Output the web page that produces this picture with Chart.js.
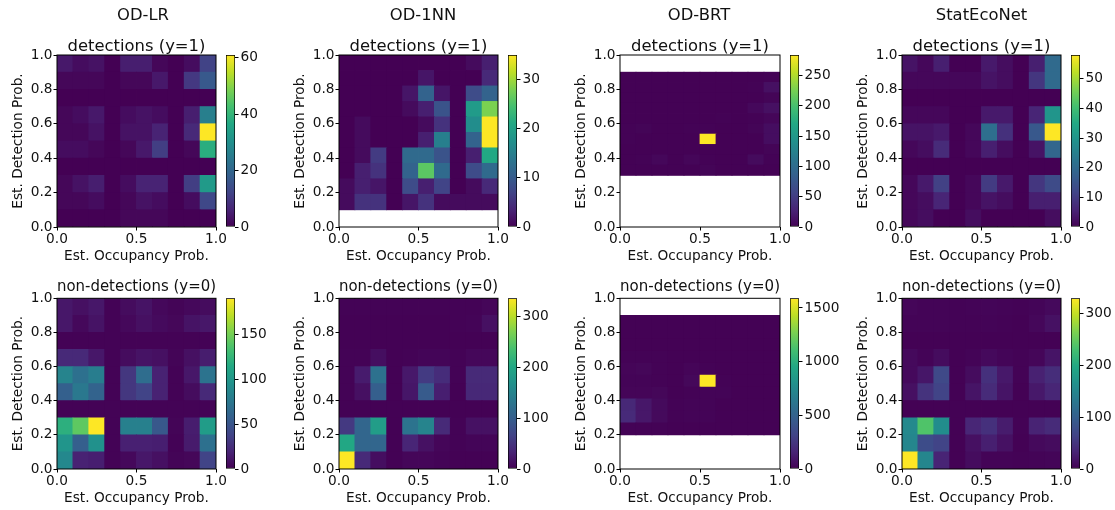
<!DOCTYPE html>
<html>
<head>
<meta charset="utf-8">
<title>Detection / occupancy 2D histograms</title>
<script src="https://cdn.jsdelivr.net/npm/chart.js@4.4.1/dist/chart.umd.min.js"></script>
<style>
  html, body { margin: 0; padding: 0; background: #fff; overflow: hidden; }
  #fig { position: relative; width: 1115px; height: 510px; }
  #fig canvas { position: absolute; }
</style>
</head>
<body>
<div id="fig"></div>
<script>
/* ---------------------------------------------------------------------
   data: counts per cell, rows listed top (high y) to bottom (low y),
   columns left (x = 0) to right (x = 1)
   --------------------------------------------------------------------- */
const models = ['OD-LR', 'OD-1NN', 'OD-BRT', 'StatEcoNet'];
const rowTitles = ['detections (y=1)', 'non-detections (y=0)'];

const xEdges = [0, 0.1, 0.2, 0.3, 0.4, 0.5, 0.6, 0.7, 0.8, 0.9, 1.0];
const yEdgesUnit = [0, 0.1, 0.2, 0.3, 0.4, 0.5, 0.6, 0.7, 0.8, 0.9, 1.0];
const yEdgesNnDet = [0.1, 0.19, 0.28, 0.37, 0.46, 0.55, 0.64, 0.73, 0.82, 0.91, 1.0];
const yEdgesBrtDet = [0.3, 0.36, 0.42, 0.48, 0.54, 0.6, 0.66, 0.72, 0.78, 0.84, 0.9];
const yEdgesBrtNon = [0.2, 0.27, 0.34, 0.41, 0.48, 0.55, 0.62, 0.69, 0.76, 0.83, 0.9];

const lrDet = [
  [4, 2, 3, 0, 5, 5, 1, 0, 2, 12],
  [1, 1, 1, 0, 1, 1, 4, 0, 10, 17],
  [0, 0, 0, 0, 0, 0, 0, 0, 0, 0],
  [1, 2, 4, 0, 2, 3, 2, 0, 5, 26],
  [1, 1, 3, 0, 3, 3, 6, 0, 7, 61],
  [2, 2, 1, 0, 1, 4, 11, 0, 1, 38],
  [0, 0, 0, 0, 0, 0, 0, 0, 0, 0],
  [1, 3, 5, 0, 2, 6, 6, 0, 11, 33],
  [1, 1, 2, 0, 1, 3, 2, 0, 2, 13],
  [0, 0, 0, 0, 1, 1, 1, 0, 0, 0],
];
const nnDet = [
  [0, 0, 0, 0, 0, 0, 0, 0, 1, 3],
  [0, 0, 0, 0, 0, 2, 0, 0, 0, 4],
  [0, 0, 0, 0, 2, 11, 2, 0, 8, 11],
  [0, 0, 0, 0, 1, 3, 9, 0, 19, 28],
  [0, 1, 0, 0, 0, 1, 5, 0, 17, 35],
  [0, 1, 0, 0, 0, 3, 15, 0, 11, 35],
  [0, 1, 6, 0, 12, 12, 9, 0, 3, 21],
  [0, 3, 5, 0, 11, 26, 12, 0, 8, 12],
  [1, 3, 2, 0, 8, 3, 7, 0, 1, 4],
  [1, 5, 5, 0, 2, 5, 1, 1, 1, 1],
];
const brtDet = [
  [1, 1, 1, 1, 1, 1, 1, 1, 1, 2],
  [1, 1, 1, 1, 1, 1, 1, 1, 2, 12],
  [1, 1, 1, 1, 1, 1, 1, 1, 1, 3],
  [1, 1, 1, 1, 1, 1, 1, 1, 6, 12],
  [1, 1, 1, 1, 1, 1, 2, 1, 2, 4],
  [2, 3, 1, 1, 2, 2, 1, 1, 3, 10],
  [2, 1, 1, 1, 1, 284, 1, 1, 1, 10],
  [1, 1, 1, 1, 1, 1, 1, 1, 1, 3],
  [1, 2, 5, 1, 4, 2, 1, 1, 8, 2],
  [1, 1, 1, 1, 1, 3, 1, 1, 1, 1],
];
const senDet = [
  [3, 1, 5, 0, 0, 4, 2, 0, 5, 20],
  [1, 1, 1, 1, 1, 3, 2, 0, 9, 20],
  [0, 0, 0, 0, 0, 0, 0, 0, 0, 0],
  [1, 1, 1, 0, 0, 4, 4, 0, 6, 30],
  [3, 3, 4, 0, 1, 21, 8, 0, 16, 58],
  [1, 2, 7, 0, 1, 5, 2, 0, 3, 19],
  [0, 0, 0, 0, 0, 0, 0, 0, 0, 0],
  [1, 4, 11, 0, 1, 10, 4, 0, 9, 13],
  [1, 2, 6, 0, 1, 3, 2, 0, 5, 5],
  [1, 2, 0, 0, 2, 0, 0, 0, 0, 2],
];
const lrNon = [
  [12, 8, 12, 1, 6, 10, 4, 2, 4, 6],
  [12, 4, 10, 1, 4, 8, 5, 3, 10, 12],
  [1, 1, 1, 1, 1, 1, 1, 1, 1, 1],
  [22, 22, 12, 1, 6, 10, 8, 2, 8, 15],
  [85, 70, 80, 1, 30, 68, 18, 1, 12, 72],
  [58, 76, 60, 1, 30, 38, 18, 1, 6, 22],
  [1, 1, 1, 1, 1, 1, 1, 1, 1, 1],
  [120, 142, 190, 1, 82, 82, 52, 2, 15, 104],
  [98, 57, 95, 1, 17, 17, 16, 1, 14, 70],
  [88, 18, 16, 1, 4, 12, 8, 2, 3, 38],
];
const nnNon = [
  [2, 2, 2, 2, 2, 2, 2, 2, 2, 5],
  [1, 1, 1, 1, 1, 1, 1, 2, 3, 14],
  [1, 1, 1, 1, 1, 1, 1, 1, 1, 1],
  [2, 2, 12, 1, 2, 4, 4, 2, 6, 6],
  [2, 25, 124, 1, 22, 57, 42, 2, 40, 40],
  [2, 14, 100, 1, 20, 95, 28, 1, 38, 38],
  [1, 1, 1, 1, 1, 1, 1, 1, 1, 1],
  [55, 110, 185, 1, 127, 150, 40, 2, 15, 15],
  [200, 110, 110, 1, 35, 15, 5, 2, 4, 4],
  [335, 40, 12, 1, 5, 5, 3, 1, 1, 1],
];
const brtNon = [
  [5, 5, 5, 5, 5, 5, 5, 5, 5, 5],
  [5, 5, 5, 5, 5, 5, 5, 5, 5, 5],
  [5, 5, 5, 5, 5, 5, 5, 5, 5, 5],
  [8, 8, 8, 5, 5, 5, 5, 5, 5, 5],
  [20, 25, 10, 5, 20, 10, 5, 5, 5, 5],
  [15, 15, 10, 5, 30, 1590, 10, 5, 5, 5],
  [20, 20, 25, 5, 10, 15, 15, 5, 5, 5],
  [180, 100, 40, 8, 15, 15, 5, 5, 5, 5],
  [190, 100, 40, 8, 15, 15, 5, 5, 5, 5],
  [10, 10, 10, 5, 5, 5, 5, 5, 5, 5],
];
const senNon = [
  [5, 3, 3, 2, 3, 4, 3, 2, 4, 8],
  [3, 3, 3, 2, 2, 3, 2, 1, 6, 15],
  [1, 1, 1, 1, 1, 1, 1, 1, 1, 1],
  [8, 3, 10, 1, 3, 8, 4, 2, 5, 18],
  [8, 20, 72, 1, 10, 45, 22, 2, 30, 42],
  [14, 48, 66, 1, 18, 40, 18, 1, 22, 35],
  [1, 1, 1, 1, 1, 1, 1, 1, 1, 1],
  [155, 238, 160, 1, 35, 45, 25, 2, 32, 40],
  [150, 76, 66, 1, 14, 28, 15, 1, 8, 10],
  [330, 150, 33, 1, 10, 3, 3, 2, 3, 4],
];

// colourbar tick labels
const cbTicksLrDet = [0, 20, 40, 60];
const cbTicksNnDet = [0, 10, 20, 30];
const cbTicksBrtDet = [0, 50, 100, 150, 200, 250];
const cbTicksSenDet = [0, 10, 20, 30, 40, 50];
const cbTicksLrNon = [0, 50, 100, 150];
const cbTicksNnNon = [0, 100, 200, 300];
const cbTicksBrtNon = [0, 500, 1000, 1500];
const cbTicksSenNon = [0, 100, 200, 300];

const panels = [
  [
    { grid: lrDet, yEdges: yEdgesUnit, cbTicks: cbTicksLrDet },
    { grid: nnDet, yEdges: yEdgesNnDet, cbTicks: cbTicksNnDet },
    { grid: brtDet, yEdges: yEdgesBrtDet, cbTicks: cbTicksBrtDet },
    { grid: senDet, yEdges: yEdgesUnit, cbTicks: cbTicksSenDet },
  ],
  [
    { grid: lrNon, yEdges: yEdgesUnit, cbTicks: cbTicksLrNon },
    { grid: nnNon, yEdges: yEdgesUnit, cbTicks: cbTicksNnNon },
    { grid: brtNon, yEdges: yEdgesBrtNon, cbTicks: cbTicksBrtNon },
    { grid: senNon, yEdges: yEdgesUnit, cbTicks: cbTicksSenNon },
  ],
];

/* ---------------------------------------------------------------------
   layout (pixels)
   --------------------------------------------------------------------- */
const plotLeft = [57, 339, 620, 902];
const plotWidth = [159, 159, 160, 159];
const cbLeft = [226, 508, 790, 1071];
const cbWidth = 9;
const titleCenter = [143, 423, 699, 981.5];
const rowBox = [
  { canvasTop: 0, canvasH: 270, top: 55, bottom: 227 },
  { canvasTop: 270, canvasH: 240, top: 298.3, bottom: 469 },
];
const Y_AXIS_W = 57;

const FAMILY = "'DejaVu Sans', 'Liberation Sans', sans-serif";
const tickFont = { family: FAMILY, size: 13.7 };
const titleFont = { family: FAMILY, size: 16.4, weight: 'normal', lineHeight: 1 };
const INK = '#111';

Chart.defaults.color = INK;
Chart.defaults.font.family = FAMILY;

// viridis
const VIRIDIS = ['#440154', '#482475', '#414487', '#355f8d', '#2a788e', '#21918c',
  '#22a884', '#44bf70', '#7ad151', '#bddf26', '#fde725'];
const hexRgb = (h) => [1, 3, 5].map((i) => parseInt(h.slice(i, i + 2), 16));
function viridis(t) {
  t = Math.min(1, Math.max(0, t));
  const p = t * (VIRIDIS.length - 1);
  const i = Math.min(VIRIDIS.length - 2, Math.floor(p));
  const f = p - i;
  const a = hexRgb(VIRIDIS[i]), b = hexRgb(VIRIDIS[i + 1]);
  const c = a.map((v, k) => Math.round(v + (b[k] - v) * f));
  return `rgb(${c[0]},${c[1]},${c[2]})`;
}

const fig = document.getElementById('fig');
function makeCanvas(left, top, w, h) {
  const c = document.createElement('canvas');
  c.width = w; c.height = h;
  c.style.left = left + 'px'; c.style.top = top + 'px';
  c.style.width = w + 'px'; c.style.height = h + 'px';
  fig.appendChild(c);
  return c;
}

// black box around the plot area, like matplotlib spines
const frame = {
  id: 'frame',
  afterDatasetsDraw(chart) {
    const { ctx, chartArea: a } = chart;
    ctx.save();
    ctx.strokeStyle = '#000';
    ctx.lineWidth = 1;
    ctx.strokeRect(a.left, a.top, a.right - a.left, a.bottom - a.top);
    ctx.restore();
  },
};

function drawHeatmap(r, c) {
  const p = panels[r][c];
  const box = rowBox[r];
  const vmax = Math.max(...p.grid.flat());
  const cells = [];
  const colors = [];
  p.grid.forEach((row, i) => {
    const k = p.grid.length - 1 - i; // row index from the bottom
    row.forEach((v, j) => {
      cells.push({ x: (xEdges[j] + xEdges[j + 1]) / 2, y: [p.yEdges[k], p.yEdges[k + 1]] });
      colors.push(viridis(v / vmax));
    });
  });

  const left = plotLeft[c] - Y_AXIS_W;
  const width = Math.round(2 * (titleCenter[c] - left));
  const padR = width - Y_AXIS_W - plotWidth[c];
  const xAxisH = box.canvasH - (box.bottom - box.canvasTop);
  const canvas = makeCanvas(left, box.canvasTop, width, box.canvasH);

  const top = r === 0;
  new Chart(canvas, {
    type: 'bar',
    data: {
      datasets: [{
        data: cells,
        backgroundColor: colors,
        borderWidth: 0,
        barPercentage: 1,
        categoryPercentage: 1,
        inflateAmount: 0.4,
      }],
    },
    options: {
      responsive: false,
      animation: false,
      events: [],
      layout: { padding: 0 },
      plugins: {
        legend: { display: false },
        tooltip: { enabled: false },
        title: top
          ? { display: true, text: models[c], color: INK, font: titleFont, fullSize: true, padding: { top: 7.5, bottom: 0 } }
          : { display: true, text: rowTitles[1], color: INK, font: titleFont, fullSize: false, padding: { top: 8.5, bottom: 3.4 } },
        subtitle: top
          ? { display: true, text: rowTitles[0], color: INK, font: titleFont, fullSize: false, padding: { top: 14.4, bottom: 0.3 } }
          : { display: false },
      },
      scales: {
        x: {
          type: 'linear', min: 0, max: 1, offset: false,
          grid: { display: true, drawOnChartArea: false, offset: false, tickLength: 3.5, color: '#000' },
          border: { display: false },
          ticks: { stepSize: 0.5, maxRotation: 0, autoSkip: false, padding: 1, font: tickFont, color: INK,
            callback: (v) => v.toFixed(1) },
          title: { display: true, text: 'Est. Occupancy Prob.', font: tickFont, color: INK,
            padding: { top: 0, bottom: top ? 5.8 : 3.5 } },
          afterFit: (s) => { s.height = xAxisH; },
        },
        y: {
          type: 'linear', min: 0, max: 1,
          grid: { display: true, drawOnChartArea: false, tickLength: 3.5, color: '#000' },
          border: { display: false },
          ticks: { stepSize: 0.2, autoSkip: false, padding: 1, font: tickFont, color: INK,
            callback: (v) => v.toFixed(1) },
          title: { display: true, text: 'Est. Detection Prob.', font: tickFont, color: INK,
            padding: { top: 10, bottom: 0 } },
          afterFit: (s) => { s.width = Y_AXIS_W; },
        },
        // empty right-hand axis: reserves the space to the right of the plot,
        // so the column title can be centred over the whole canvas
        spacer: {
          type: 'linear', position: 'right', axis: 'y',
          grid: { display: false }, border: { display: false }, ticks: { display: false },
          afterFit: (s) => { s.width = padR; },
        },
      },
    },
    plugins: [frame],
  });

  drawColorbar(r, c, vmax);
}

function drawColorbar(r, c, vmax) {
  const p = panels[r][c];
  const box = rowBox[r];
  const width = 52;
  const canvas = makeCanvas(cbLeft[c], box.canvasTop, width, box.canvasH);

  new Chart(canvas, {
    type: 'bar',
    data: {
      labels: [''],
      datasets: [{
        data: [[0, vmax]],
        backgroundColor: (ctx) => {
          const ch = ctx.chart;
          const ys = ch.scales.y;
          if (!ch.chartArea || !ys) return VIRIDIS[5];
          const g = ch.ctx.createLinearGradient(0, ys.getPixelForValue(0), 0, ys.getPixelForValue(vmax));
          VIRIDIS.forEach((col, i) => g.addColorStop(i / (VIRIDIS.length - 1), col));
          return g;
        },
        borderColor: '#000',
        borderWidth: 1,
        borderSkipped: false,
        barPercentage: 1,
        categoryPercentage: 1,
      }],
    },
    options: {
      responsive: false,
      animation: false,
      events: [],
      layout: { padding: { left: 0, right: 0, top: box.top - box.canvasTop, bottom: box.canvasTop + box.canvasH - box.bottom } },
      plugins: { legend: { display: false }, tooltip: { enabled: false } },
      scales: {
        x: { display: false },
        y: {
          position: 'right', min: 0, max: vmax,
          grid: { display: true, drawOnChartArea: false, tickLength: 3.5, color: '#000' },
          border: { display: false },
          ticks: { padding: 2, font: tickFont, color: INK, callback: (v) => String(v) },
          afterBuildTicks: (s) => { s.ticks = p.cbTicks.map((v) => ({ value: v })); },
          afterFit: (s) => { s.width = width - cbWidth; },
        },
      },
    },
  });
}

for (let r = 0; r < 2; r++) {
  for (let c = 0; c < 4; c++) drawHeatmap(r, c);
}
</script>
</body>
</html>
